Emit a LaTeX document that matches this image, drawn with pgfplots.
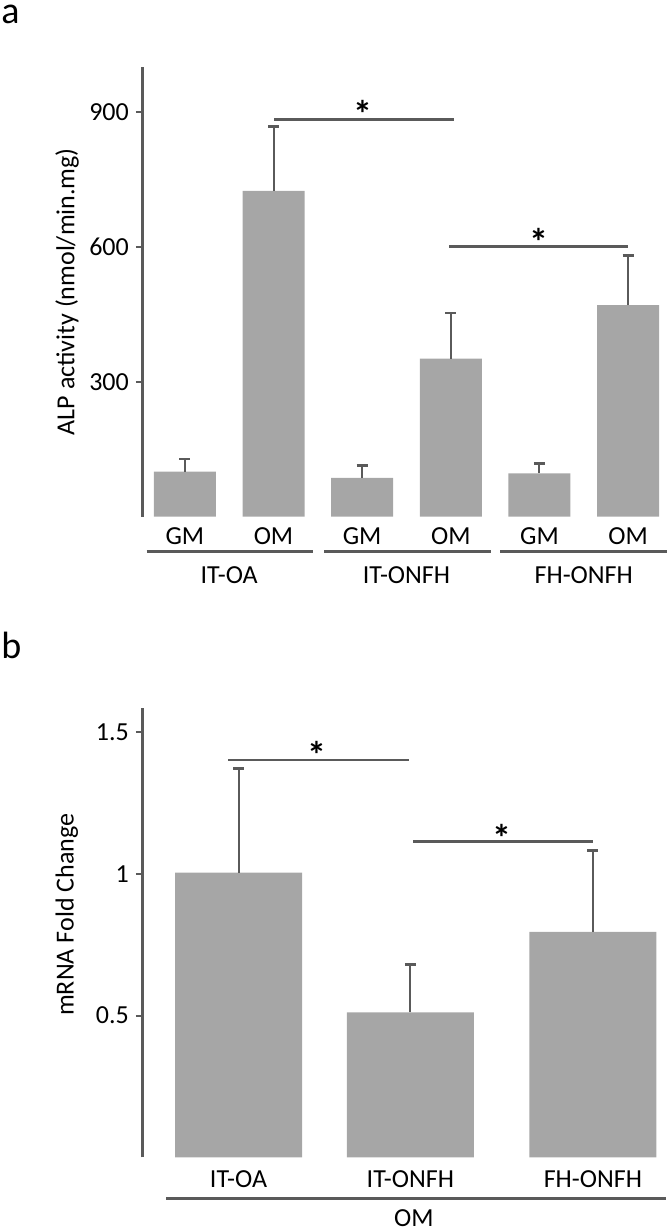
\documentclass[border=0pt]{standalone}
\usepackage{fontspec}
\setmainfont{Carlito}
\usepackage{pgfplots}
\pgfplotsset{compat=1.18}
\usepackage{pgfplotstable}
\definecolor{bargray}{HTML}{A6A6A6}
\definecolor{linegray}{HTML}{5A5A5A}

\pgfplotstableread{
x y e
0 100 28
1 724 143
2 86 28
3 351 102
4 96 22
5 470 111
}\alpdata

\pgfplotstableread{
x y e
0 1.005 0.368
0.97 0.512 0.169
2 0.796 0.286
}\mrnadata

\pgfplotsset{mystyle/.style={
  scale only axis,
  axis y line*=left,
  axis x line*=bottom,
  x axis line style={draw=none},
  y axis line style={-, draw=linegray, line width=1.3pt},
  axis line style={-},
  tick align=outside,
  xtick style={draw=none},
  ytick style={draw=linegray, line width=1pt},
  major tick length=3.2pt,
  ticklabel style={font=\fontsize{13}{15}\selectfont, text=black},
  ylabel style={font=\fontsize{13}{15}\selectfont, text=black},
  /pgf/number format/assume math mode=true,
  clip=false,
  ymin=0,
}}

\begin{document}
\begin{tikzpicture}
\useasboundingbox (0pt,0pt) rectangle (333pt,615pt);
\node[anchor=base west, inner sep=0pt, font=\fontsize{19}{22}\selectfont] at (0.5pt,603.35pt) {a};
\node[anchor=base west, inner sep=0pt, font=\fontsize{19}{22}\selectfont] at (0.5pt,285.85pt) {b};

% Panel a
\begin{axis}[mystyle,
  at={(71.15pt,356.65pt)}, anchor=south west,
  width=262.4pt, height=225pt,
  xmin=-0.48, xmax=5.44, ymax=1000,
  ytick={300,600,900},
  xtick={0,1,2,3,4,5},
  xticklabels={GM,OM,GM,OM,GM,OM},
  xticklabel style={yshift=1.5pt},
  ylabel={ALP activity (nmol/min.mg)},
  ylabel style={at={(axis description cs:-0.1435,0.5)}, anchor=center},
]
\addplot[ybar, bar width=31pt, fill=bargray, draw=none,
  error bars/.cd, y dir=plus, y explicit,
  error bar style={linegray, line width=1pt},
  error mark options={linegray, rotate=90, mark size=2.75pt, line width=1.3pt}]
  table[x=x, y=y, y error=e] {\alpdata};
\draw[linegray, line width=1.3pt] (axis cs:1.01,883) -- (axis cs:3.04,883);
\draw[linegray, line width=1.3pt] (axis cs:2.98,600) -- (axis cs:5.0,600);
\node[font=\fontsize{19}{19}\selectfont\bfseries] at (axis cs:2.01,896) {*};
\node[font=\fontsize{19}{19}\selectfont\bfseries] at (axis cs:3.99,610) {*};
\draw[linegray, line width=1.3pt] (axis cs:-0.43,-78) -- (axis cs:1.44,-78);
\draw[linegray, line width=1.3pt] (axis cs:1.57,-78) -- (axis cs:3.45,-78);
\draw[linegray, line width=1.3pt] (axis cs:3.56,-78) -- (axis cs:5.44,-78);
\node[font=\fontsize{13}{15}\selectfont] at (axis cs:0.5,-129) {IT-OA};
\node[font=\fontsize{13}{15}\selectfont] at (axis cs:2.5,-129) {IT-ONFH};
\node[font=\fontsize{13}{15}\selectfont] at (axis cs:4.5,-129) {FH-ONFH};
\end{axis}

% Panel b
\begin{axis}[mystyle,
  at={(71.15pt,36.35pt)}, anchor=south west,
  width=261.8pt, height=224.5pt,
  xmin=-0.543, xmax=2.412, ymax=1.585,
  ytick={0.5,1,1.5},
  yticklabels={0.5,1,1.5},
  xtick={0,0.97,2},
  xticklabels={IT-OA,IT-ONFH,FH-ONFH},
  xticklabel style={yshift=0pt},
  ylabel={mRNA Fold Change},
  ylabel style={at={(axis description cs:-0.144,0.54)}, anchor=center},
]
\addplot[ybar, bar width=63.5pt, fill=bargray, draw=none,
  error bars/.cd, y dir=plus, y explicit,
  error bar style={linegray, line width=1pt},
  error mark options={linegray, rotate=90, mark size=2.75pt, line width=1.3pt}]
  table[x=x, y=y, y error=e] {\mrnadata};
\draw[linegray, line width=1.3pt] (axis cs:-0.057,1.402) -- (axis cs:0.96,1.402);
\draw[linegray, line width=1.3pt] (axis cs:0.986,1.114) -- (axis cs:2.0,1.114);
\node[font=\fontsize{19}{19}\selectfont\bfseries] at (axis cs:0.44,1.419) {*};
\node[font=\fontsize{19}{19}\selectfont\bfseries] at (axis cs:1.487,1.128) {*};
\draw[linegray, line width=1.3pt] (axis cs:-0.407,-0.145) -- (axis cs:2.412,-0.145);
\node[font=\fontsize{13}{15}\selectfont] at (axis cs:0.99,-0.214) {OM};
\end{axis}
\end{tikzpicture}
\end{document}
